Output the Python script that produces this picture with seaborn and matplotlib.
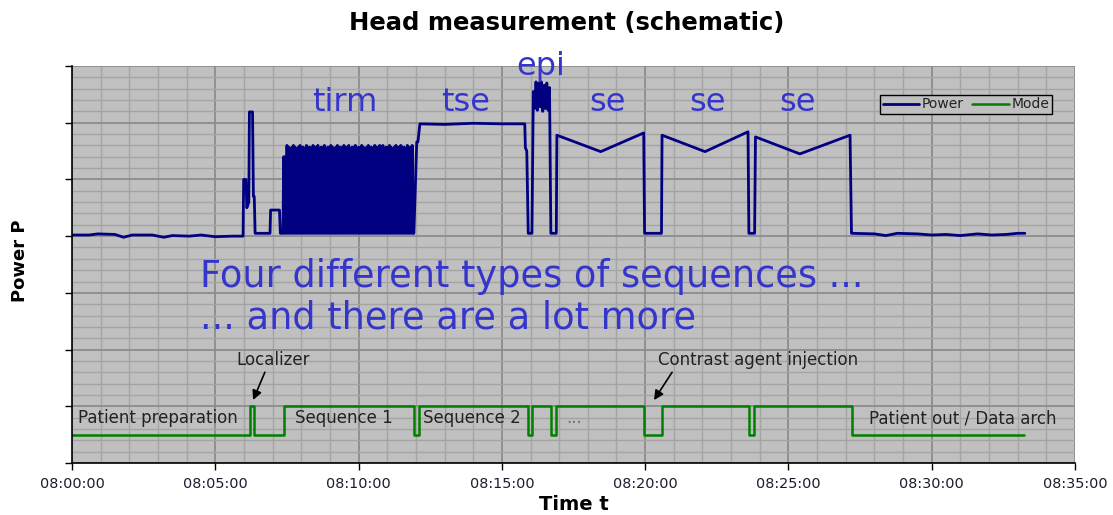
import numpy as np
import pandas as pd
import matplotlib
matplotlib.use("Agg")
import matplotlib.pyplot as plt
from matplotlib.ticker import MultipleLocator, FuncFormatter
import seaborn as sns

sns.set_theme(style="ticks")
plt.rcParams['font.family'] = ['DejaVu Sans']

# time in minutes after 08:00, power in arbitrary units
idle_t = [0.0, 0.6, 0.9, 1.5, 1.8, 2.1, 2.8, 3.2, 3.5, 4.1, 4.5, 5.0, 5.6, 5.95]
idle_p = [4.02, 4.02, 4.04, 4.03, 3.98, 4.02, 4.02, 3.98, 4.01, 4.0, 4.02, 3.99, 4.0, 4.0]

loc_t = [5.97, 5.99, 6.07, 6.10, 6.17, 6.19, 6.30, 6.33, 6.36, 6.39, 6.91, 6.93, 7.24, 7.27, 7.36]
loc_p = [4.0, 5.0, 5.0, 4.5, 4.6, 6.19, 6.19, 4.7, 4.7, 4.05, 4.05, 4.46, 4.46, 4.05, 4.05]

tirm_low = 4.05
tirm_tops = [5.4, 5.4, 5.6, 5.57, 5.0, 5.57, 5.6, 5.57, 5.3, 5.57, 5.6, 5.57,
             5.57, 4.9, 5.6, 5.57, 5.57, 5.2, 5.6, 5.57, 5.57, 5.6, 5.4, 5.57,
             5.57, 5.6, 5.0, 5.57, 5.57, 5.6, 5.57, 5.3, 5.57, 5.6, 5.57, 5.57,
             5.1, 5.6, 5.57, 5.57, 5.6, 5.4, 5.57, 5.57, 5.6, 5.0, 5.57, 5.57,
             5.6, 5.57, 5.3, 5.57, 5.6, 5.57, 5.57, 5.5, 5.6, 5.57, 5.57, 5.6,
             5.57, 5.6, 5.2, 5.57, 5.57, 5.6, 5.57, 5.4, 5.57, 5.6, 5.57, 5.57,
             5.6, 5.57, 5.57, 5.3, 5.6, 5.57, 5.57, 5.6]
tirm_span = (7.36, 11.90)

tse_t = [11.93, 12.03, 12.07, 12.14, 13.0, 14.0, 15.0, 15.80, 15.82, 15.87, 15.92]
tse_p = [4.05, 5.66, 5.66, 5.98, 5.97, 5.99, 5.98, 5.98, 5.56, 5.50, 4.05]

epi_p = [4.05, 6.55, 6.25, 6.72, 6.22, 6.70, 6.28, 6.72, 6.20, 6.66, 6.25, 6.70, 6.22, 6.62, 4.05]
epi_span = (16.05, 16.71)

se_t = [16.71, 16.90, 16.92, 18.45, 19.95, 19.98, 20.57, 20.59, 22.09, 23.59, 23.62,
        23.82, 23.85, 25.40, 27.15, 27.20]
se_p = [4.05, 4.05, 5.78, 5.49, 5.82, 4.05, 4.05, 5.78, 5.49, 5.84, 4.05,
        4.05, 5.75, 5.45, 5.78, 4.05]

tail_t = [27.22, 28.0, 28.4, 28.8, 29.5, 30.0, 30.5, 31.0, 31.6, 32.1, 32.6, 33.0, 33.25]
tail_p = [4.05, 4.04, 4.01, 4.05, 4.04, 4.02, 4.03, 4.01, 4.04, 4.02, 4.03, 4.05, 4.05]

mode_t = [0, 6.21, 6.35, 7.40, 11.93, 12.10, 15.91, 16.05, 16.71, 16.89,
          19.96, 20.59, 23.62, 23.80, 27.22, 33.22]
mode_v = [0.5, 1, 0.5, 1, 0.5, 1, 0.5, 1, 0.5, 1, 0.5, 1, 0.5, 1, 0.5, 0.5]

seq_labels = ["tirm", "tse", "epi", "se", "se", "se"]
seq_x = [9.53, 13.75, 16.36, 18.70, 22.16, 25.33]
seq_y = [6.35, 6.35, 7.0, 6.35, 6.35, 6.35]

mode_labels = ["Patient preparation", "Sequence 1", "Sequence 2", "Patient out / Data arch"]
mode_label_x = [0.21, 7.78, 12.25, 27.81]

# assemble the power trace
n = len(tirm_tops)
tirm_t = np.linspace(tirm_span[0], tirm_span[1], 2 * n + 1)
tirm_p = [tirm_low]
for top in tirm_tops:
    tirm_p += [top, tirm_low]
epi_t = np.linspace(epi_span[0], epi_span[1], len(epi_p))

power = pd.DataFrame({
    "t": np.concatenate([idle_t, loc_t, tirm_t, tse_t, epi_t, se_t, tail_t]),
    "p": np.concatenate([idle_p, loc_p, tirm_p, tse_p, epi_p, se_p, tail_p]),
})
mode = pd.DataFrame({"t": mode_t, "p": mode_v})

fig = plt.figure(figsize=(11.13, 5.15), dpi=100)
ax = fig.add_axes([72 / 1113, 52 / 515, 1003 / 1113, 397 / 515])
ax.set_facecolor("#c0c0c0")

sns.lineplot(data=power, x="t", y="p", ax=ax, sort=False, estimator=None,
             color="#000080", lw=2.0, label="Power")
sns.lineplot(data=mode, x="t", y="p", ax=ax, sort=False, estimator=None,
             color="#008000", lw=1.8, drawstyle="steps-post", label="Mode")

ax.set_xlim(0, 35)
ax.set_ylim(0, 7)
ax.xaxis.set_major_locator(MultipleLocator(5))
ax.xaxis.set_minor_locator(MultipleLocator(1))
ax.yaxis.set_major_locator(MultipleLocator(1))
ax.yaxis.set_minor_locator(MultipleLocator(0.2))
ax.xaxis.set_major_formatter(FuncFormatter(lambda v, pos: "08:%02d:00" % int(round(v))))
ax.set_yticklabels([])
ax.grid(which="major", color="#8c8c8c", lw=1.3)
ax.grid(which="minor", color="#a4a4a4", lw=1.0)
ax.set_axisbelow(True)
ax.tick_params(which="minor", length=0)
ax.tick_params(which="major", length=5, width=1, color="black",
               labelsize=10.4, labelcolor="#1c1c30", pad=5)
for side in ["top", "right"]:
    ax.spines[side].set_visible(False)
for side in ["left", "bottom"]:
    ax.spines[side].set_color("black")
    ax.spines[side].set_linewidth(1.2)

ax.set_xlabel("Time t", fontsize=14, fontweight="bold", color="black")
ax.xaxis.label.set_va("center")
ax.xaxis.set_label_coords(0.5, (463 - 505) / 397)
ax.set_ylabel("Power P", fontsize=13, fontweight="bold", color="black")
ax.yaxis.label.set_va("center")
ax.yaxis.set_label_coords((20 - 72) / 1003, (463 - 261) / 397)
fig.text(567 / 1113, 1 - 23 / 515, "Head measurement (schematic)", ha="center", va="center",
         fontsize=17.5, fontweight="bold", color="black")

blue = "#3535cc"
for lab, x, y in zip(seq_labels, seq_x, seq_y):
    ax.text(x, y, lab, color=blue, fontsize=23, ha="center", va="center")
ax.text(4.47, 3.28, "Four different types of sequences ...", color=blue, fontsize=26.5, va="center")
ax.text(4.47, 2.56, "... and there are a lot more", color=blue, fontsize=26.5, va="center")

for lab, x in zip(mode_labels, mode_label_x):
    ax.text(x, 0.79, lab, color="#222222", fontsize=12, va="center")
ax.text(17.24, 0.79, "...", color="#707070", fontsize=12, va="center")

ax.text(5.72, 1.82, "Localizer", fontsize=12, color="#222222", va="center")
ax.text(20.45, 1.82, "Contrast agent injection", fontsize=12, color="#222222", va="center")
arrow = dict(arrowstyle="-|>", color="black", lw=1.2, shrinkA=0, shrinkB=0, mutation_scale=14)
ax.annotate("", xy=(6.32, 1.11), xytext=(6.73, 1.6), arrowprops=arrow)
ax.annotate("", xy=(20.31, 1.11), xytext=(20.94, 1.6), arrowprops=arrow)

leg = ax.legend(loc="upper left", bbox_to_anchor=(0.806, 0.928), ncol=2, fontsize=10,
                frameon=True, fancybox=False, handlelength=2.6, handletextpad=0.2,
                columnspacing=0.6, borderpad=0.2, borderaxespad=0)
leg.get_frame().set_edgecolor("black")
leg.get_frame().set_facecolor("#c0c0c0")
leg.get_frame().set_alpha(1)
leg.get_frame().set_linewidth(1.0)
for txt in leg.get_texts():
    txt.set_color("#222222")

fig.savefig("out.png", dpi=100)
